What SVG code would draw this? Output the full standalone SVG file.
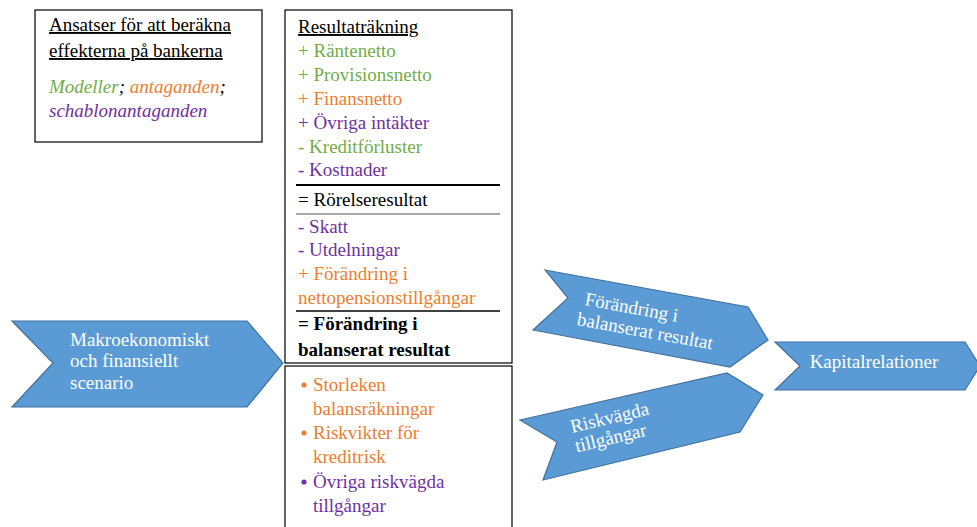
<svg xmlns="http://www.w3.org/2000/svg" width="977" height="527" viewBox="0 0 977 527">
<style>
text{font-family:"Liberation Serif","Times New Roman",serif;font-size:19px;}
.box{fill:#fff;stroke:#000;stroke-width:1.2;}
.chev{fill:#5b9bd5;stroke:#41719c;stroke-width:1.2;}
.w{fill:#fff;}
.g{fill:#70ad47;}
.o{fill:#ed7d31;}
.p{fill:#7030a0;}
.k{fill:#000;}
.u{text-decoration:underline;}
</style>
<rect width="977" height="527" fill="#fff"/>
<g id="approaches">
<rect class="box" x="35" y="10" width="227" height="132"/>
<text class="k u" x="49" y="31">Ansatser för att beräkna</text>
<text class="k u" x="49" y="57">effekterna på bankerna</text>
<text x="49" y="93" font-style="italic"><tspan class="g">Modeller</tspan><tspan class="k">; </tspan><tspan class="o">antaganden</tspan><tspan class="k">;</tspan></text>
<text class="p" x="49" y="117" font-style="italic">schablonantaganden</text>
</g>
<g id="income-statement">
<rect class="box" x="285" y="10" width="227" height="353"/>
<text class="k u" x="298" y="33">Resultaträkning</text>
<text class="g" x="298" y="57">+ Räntenetto</text>
<text class="g" x="298" y="81">+ Provisionsnetto</text>
<text class="o" x="298" y="105">+ Finansnetto</text>
<text class="p" x="298" y="129">+ Övriga intäkter</text>
<text class="g" x="298" y="153">- Kreditförluster</text>
<text class="p" x="298" y="176">- Kostnader</text>
<line x1="296" y1="185" x2="500" y2="185" stroke="#000" stroke-width="2"/>
<text class="k" x="298" y="206">= Rörelseresultat</text>
<line x1="296" y1="214" x2="500" y2="214" stroke="#555" stroke-width="1.2"/>
<text class="p" x="298" y="233">- Skatt</text>
<text class="p" x="298" y="256">- Utdelningar</text>
<text class="o" x="298" y="280">+ Förändring i</text>
<text class="o" x="298" y="304">nettopensionstillgångar</text>
<line x1="296" y1="311" x2="500" y2="311" stroke="#000" stroke-width="1.5"/>
<text class="k" x="298" y="330" font-weight="bold">= Förändring i</text>
<text class="k" x="298" y="356" font-weight="bold">balanserat resultat</text>
</g>
<g id="rwa-items">
<rect class="box" x="285" y="366" width="227" height="170"/>
<circle class="o" cx="304" cy="385" r="2.6"/>
<text class="o" x="313" y="391">Storleken</text>
<text class="o" x="313" y="415">balansräkningar</text>
<circle class="o" cx="304" cy="433" r="2.6"/>
<text class="o" x="313" y="439">Riskvikter för</text>
<text class="o" x="313" y="463">kreditrisk</text>
<circle class="p" cx="304" cy="482" r="2.6"/>
<text class="p" x="313" y="488">Övriga riskvägda</text>
<text class="p" x="313" y="512">tillgångar</text>
</g>
<g id="scenario">
<polygon class="chev" points="12,321 247,321 283,363 247,407 12,407 53,363"/>
<text class="w" x="70" y="346">Makroekonomiskt</text>
<text class="w" x="70" y="367">och finansiellt</text>
<text class="w" x="70" y="389">scenario</text>
</g>
<g id="retained-earnings">
<polygon class="chev" points="545,270 748,307 768,340 730,367 533,330 568,298"/>
<g transform="rotate(10.3 584 305)">
<text class="w" x="584" y="305">Förändring i</text>
<text class="w" x="580" y="326">balanserat resultat</text>
</g>
</g>
<g id="rwa">
<polygon class="chev" points="520,420 727,373 763,395 740,432 543,480 557,442"/>
<g transform="rotate(-13.5 572 433)">
<text class="w" x="572" y="433">Riskvägda</text>
<text class="w" x="572" y="453">tillgångar</text>
</g>
</g>
<g id="capital-ratios">
<polygon class="chev" points="775,342 965,342 980,366 965,390 775,390 800,366"/>
<text class="w" x="874" y="368" text-anchor="middle">Kapitalrelationer</text>
</g>
<g id="connectors"></g>
</svg>
